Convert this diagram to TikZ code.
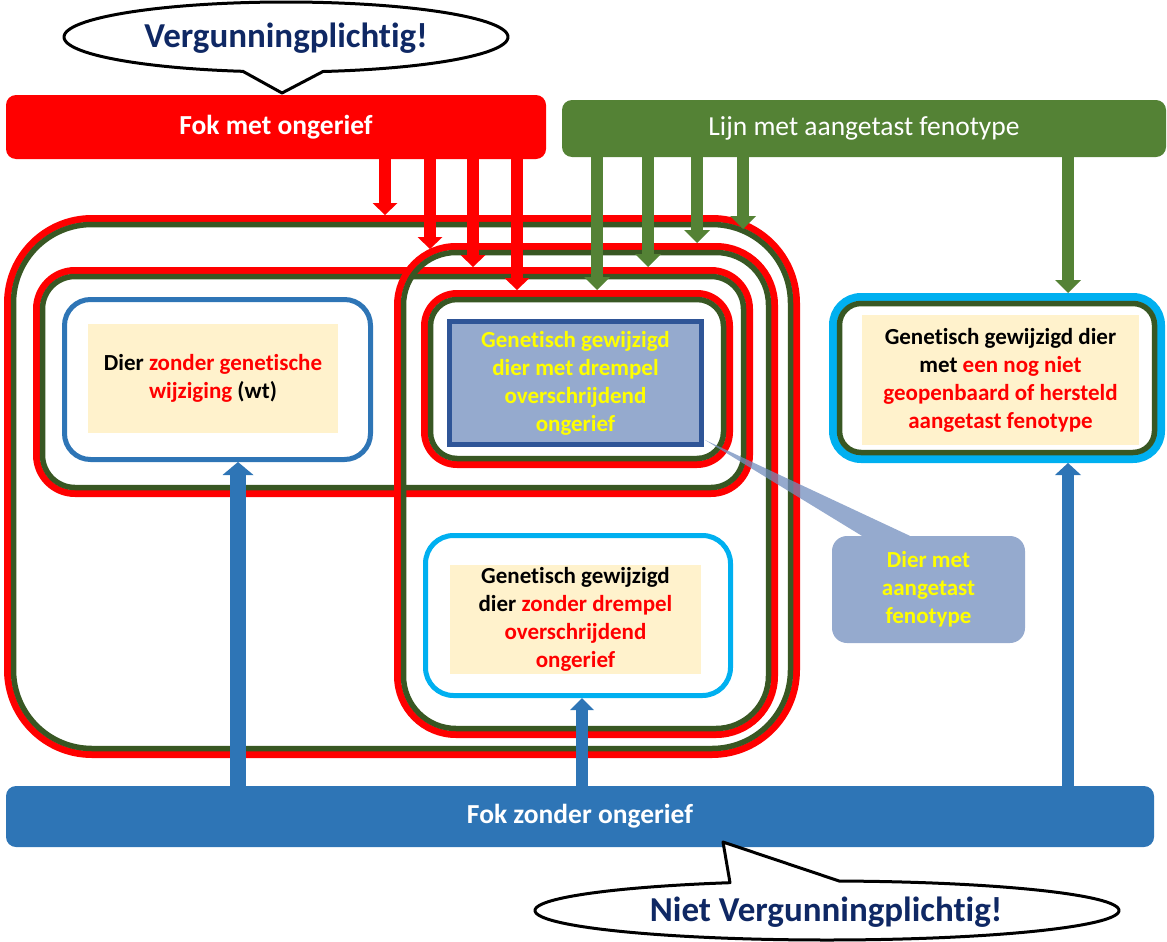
\documentclass[tikz,border=0pt]{standalone}
\usepackage{fontspec}
\setmainfont{Carlito}[Ligatures=NoCommon]
\usetikzlibrary{arrows.meta,calc}
\definecolor{fred}{RGB}{255,0,0}
\definecolor{dkgreen}{RGB}{56,87,35}
\definecolor{lgreen}{RGB}{84,130,53}
\definecolor{fblue}{RGB}{46,117,182}
\definecolor{fcyan}{RGB}{0,176,240}
\definecolor{cream}{RGB}{255,242,204}
\definecolor{greyblue}{RGB}{149,170,206}
\definecolor{rectborder}{RGB}{47,85,151}
\definecolor{navy}{RGB}{15,40,100}
\definecolor{fyellow}{RGB}{255,255,0}
\definecolor{calloutfill}{RGB}{114,141,189}
% #1 name, #2 L, #3 T, #4 R, #5 B, #6 radius, #7 outer colour, #8 outer width
\newcommand{\dblframe}[8]{%
  \pgfmathsetmacro{\dfw}{#4-#2-#8}%
  \pgfmathsetmacro{\dfh}{#5-#3-#8}%
  \pgfmathsetmacro{\dfr}{#6-#8/2}%
  \pgfmathsetmacro{\dgw}{#4-#2-2*#8-5}%
  \pgfmathsetmacro{\dgh}{#5-#3-2*#8-5}%
  \pgfmathsetmacro{\dgr}{#6-#8-2.5}%
  \pgfmathsetmacro{\dcx}{(#2+#4)/2}%
  \pgfmathsetmacro{\dcy}{(#3+#5)/2}%
  \node[draw=#7, line width=#8pt, rounded corners=\dfr pt, minimum width=\dfw pt, minimum height=\dfh pt, inner sep=0pt] (#1) at (\dcx,\dcy) {};
  \node[draw=dkgreen, line width=5.5pt, rounded corners=\dgr pt, minimum width=\dgw pt, minimum height=\dgh pt, inner sep=0pt] (#1in) at (#1.center) {};
}
\begin{document}
\begin{tikzpicture}[x=1pt,y=-1pt,
  txt/.style={font=\bfseries\fontsize{23}{28}\selectfont, align=center, inner sep=0pt},
  creambox/.style={txt, fill=cream, text=black},
  barnode/.style={rounded corners=10pt, text=white, font=\bfseries\fontsize{27.5}{32}\selectfont, inner sep=0pt},
  bubble/.style={draw=black, line width=3pt, fill=white, line join=round},
  bubbletext/.style={text=navy, font=\bfseries\fontsize{35}{40}\selectfont},
  redarr/.style={draw=fred, line width=12pt, shorten <=-3pt, -{Triangle[width=25pt,length=12pt,line width=0pt]}},
  grnarr/.style={draw=lgreen, line width=12pt, shorten <=-3pt, -{Triangle[width=26pt,length=13pt,line width=0pt]}},
  bluarrwide/.style={draw=fblue, line width=16pt, shorten <=-3pt, -{Triangle[width=31pt,length=13pt,line width=0pt]}},
  bluarr/.style={draw=fblue, line width=12pt, shorten <=-3pt, -{Triangle[width=24pt,length=12pt,line width=0pt]}},
  bluarrb/.style={draw=fblue, line width=12pt, shorten <=-3pt, -{Triangle[width=26pt,length=12pt,line width=0pt]}}
]
\useasboundingbox (0,0) rectangle (1167,942);

% nested frames
\dblframe{outer}{4}{215}{800}{758}{88}{fred}{7}
\dblframe{wide}{33}{267}{753}{497}{42}{fred}{7}
\dblframe{tall}{394}{243}{778}{738}{62}{fred}{7}
\dblframe{inner}{421}{290}{733}{468}{36}{fred}{7}
\dblframe{right}{829}{293}{1165}{463}{32}{fcyan}{8}

% boxes
\node[draw=fblue, line width=5pt, rounded corners=26pt, minimum width=306pt, minimum height=160pt] (dier) at (217.5,379.5) {};
\node[creambox, minimum width=250pt, minimum height=109pt] (diertxt) at (213,378.5)
  {Dier \textcolor{fred}{zonder genetische}\\\textcolor{fred}{wijziging} (wt)};
\node[txt, draw=rectborder, line width=5pt, fill=greyblue, text=fyellow, minimum width=252pt, minimum height=123pt] (gmrect) at (575.5,383)
  {Genetisch gewijzigd\\dier met drempel\\overschrijdend\\ongerief};
\node[draw=fcyan, line width=5pt, rounded corners=28pt, minimum width=305pt, minimum height=160pt] (lower) at (578,615.5) {};
\node[creambox, minimum width=251pt, minimum height=109pt] (lowertxt) at (575.5,619.5)
  {Genetisch gewijzigd\\dier \textcolor{fred}{zonder drempel}\\\textcolor{fred}{overschrijdend}\\\textcolor{fred}{ongerief}};
\node[creambox, minimum width=277pt, minimum height=130pt] (righttxt) at (1000.5,380)
  {Genetisch gewijzigd dier\\met \textcolor{fred}{een nog niet}\\\textcolor{fred}{geopenbaard of hersteld}\\\textcolor{fred}{aangetast fenotype}};

% bars
\node[barnode, fill=fred, minimum width=540pt, minimum height=64pt] (redbar) at (276,127) {Fok met ongerief};
\node[barnode, fill=lgreen, minimum width=604pt, minimum height=57pt, font=\fontsize{27.5}{32}\selectfont] (greenbar) at (864,128.5) {Lijn met aangetast fenotype};
\node[barnode, fill=fblue, minimum width=1148pt, minimum height=61pt] (bluebar) at (580,816.5) {Fok zonder ongerief};

% arrow columns
\foreach \nm/\xx in {r1/385, r2/430, r3/473, r4/517, g1/597, g2/648, g3/697, g4/743, g5/1068, b1/238, b2/582, b3/1068}
  {\coordinate (x\nm) at (\xx,0);}
\coordinate (r2tip) at (430,249);
\coordinate (g4tip) at (743,229);

\draw[redarr] (redbar.south -| xr1) -- (outer.north -| xr1);
\draw[redarr] (redbar.south -| xr2) -- (r2tip);
\draw[redarr] (redbar.south -| xr3) -- (wide.north -| xr3);
\draw[redarr] (redbar.south -| xr4) -- (inner.north -| xr4);
\draw[grnarr] (greenbar.south -| xg1) -- (inner.north -| xg1);
\draw[grnarr] (greenbar.south -| xg2) -- (wide.north -| xg2);
\draw[grnarr] (greenbar.south -| xg3) -- (tall.north -| xg3);
\draw[grnarr] (greenbar.south -| xg4) -- (g4tip);
\draw[grnarr] (greenbar.south -| xg5) -- (right.north -| xg5);
\draw[bluarrwide] (bluebar.north -| xb1) -- (dier.south -| xb1);
\draw[bluarr] (bluebar.north -| xb2) -- (lower.south -| xb2);
\draw[bluarrb] (bluebar.north -| xb3) -- (right.south -| xb3);

% callout
\node[txt, fill=calloutfill, fill opacity=0.75, text opacity=1, text=fyellow, rounded corners=15pt, minimum width=193pt, minimum height=107pt] (callout) at (928.5,589.5)
  {Dier met\\aangetast\\fenotype};
\coordinate (calltip) at (705,440);
\fill[calloutfill, fill opacity=0.75] (calltip) -- ($(callout.north west)+(30,0)$) -- ($(callout.north west)+(78,0)$) -- cycle;

% speech bubbles
\coordinate (ttip) at (282,93);
\draw[bubble] (ttip) -- plot[domain=80.4:-258.8, samples=140] ({286+222*cos(\x)},{37+35*sin(\x)}) -- cycle;
\node[bubbletext] (ttext) at (286,38) {Vergunningplichtig!};
\coordinate (btip) at (723,842);
\draw[bubble] (btip) -- plot[domain=-87.6:250.6, samples=160] ({827+292*cos(\x)},{910.5+29.5*sin(\x)}) -- cycle;
\node[bubbletext] (btext) at (826,912) {Niet Vergunningplichtig!};
\end{tikzpicture}
\end{document}
